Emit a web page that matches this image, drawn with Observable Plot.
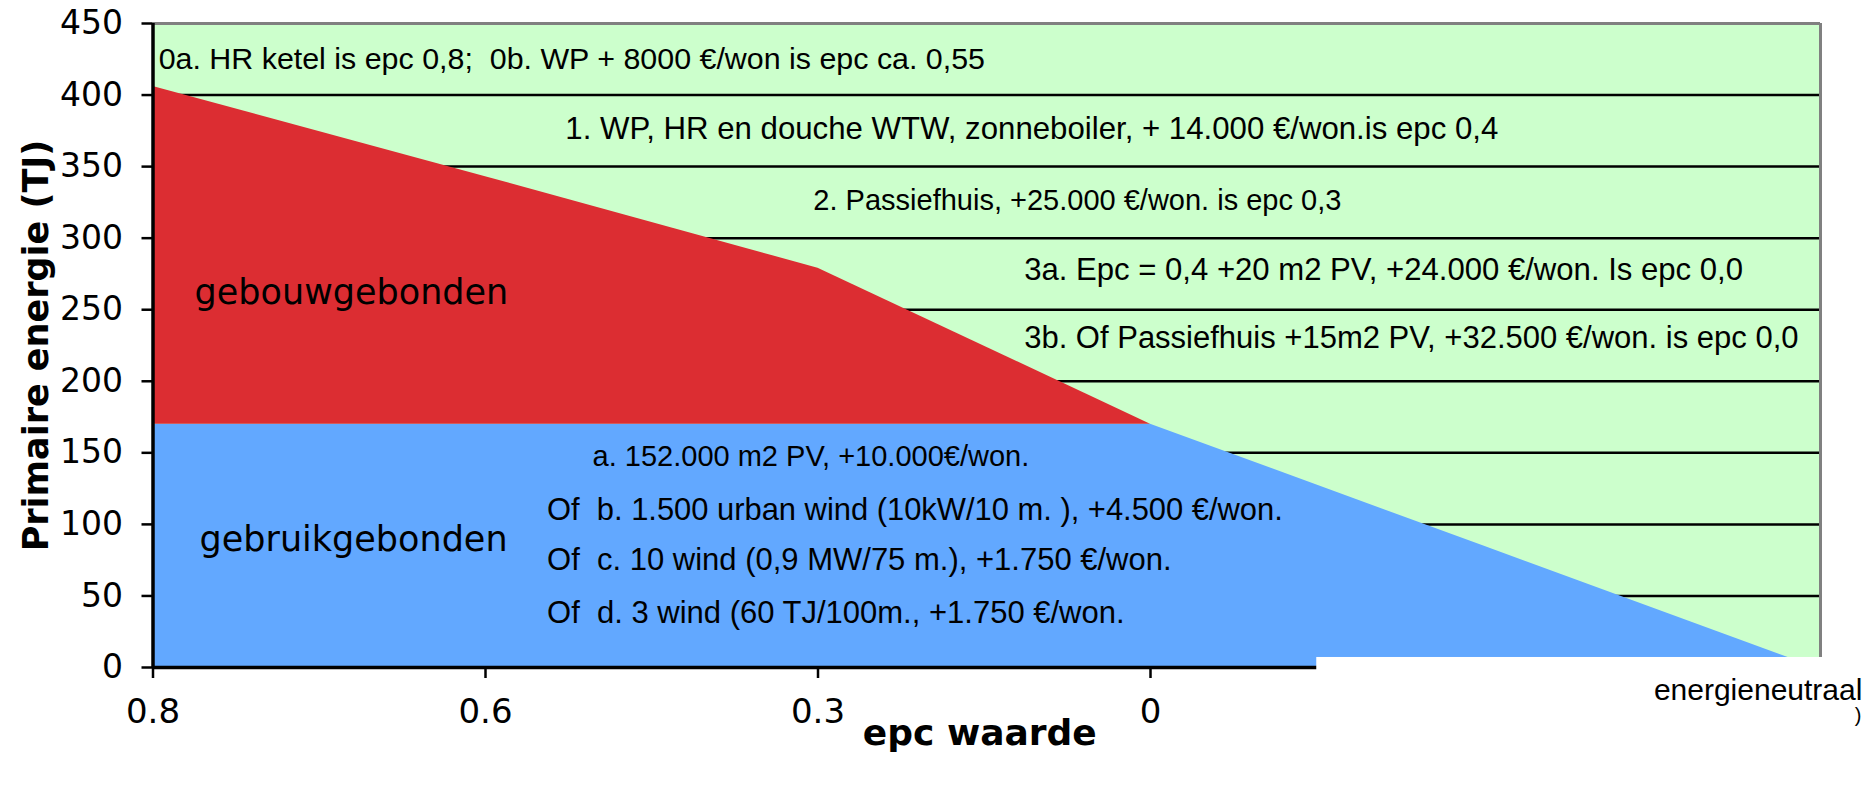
<!DOCTYPE html>
<html>
<head>
<meta charset="utf-8">
<script src="https://cdn.jsdelivr.net/npm/d3@7"></script>
<script src="https://cdn.jsdelivr.net/npm/@observablehq/plot@0.6"></script>
<style>
  html, body { margin: 0; padding: 0; background: white; }
  svg text { white-space: pre; }
</style>
</head>
<body>
<div id="chart"></div>
<script>
// categories along the x axis (equally spaced)
const epc = ["0.8", "0.6", "0.3", "0", "", "energieneutraal"];
// gebruikgebonden (blue, bottom layer), TJ
const gebruik = [170, 170, 170, 170, 85, 0];
// gebouwgebonden (red, stacked on top), TJ
const gebouw = [236, 173, 109, 0];
const yTicks = [0, 50, 100, 150, 200, 250, 300, 350, 400, 450];

// annotation texts in the chart
const noteText = [
  "0a. HR ketel is epc 0,8;  0b. WP + 8000 €/won is epc ca. 0,55",
  "1. WP, HR en douche WTW, zonneboiler, + 14.000 €/won.is epc 0,4",
  "2. Passiefhuis, +25.000 €/won. is epc 0,3",
  "3a. Epc = 0,4 +20 m2 PV, +24.000 €/won. Is epc 0,0",
  "3b. Of Passiefhuis +15m2 PV, +32.500 €/won. is epc 0,0",
  "a. 152.000 m2 PV, +10.000€/won.",
  "Of  b. 1.500 urban wind (10kW/10 m. ), +4.500 €/won.",
  "Of  c. 10 wind (0,9 MW/75 m.), +1.750 €/won.",
  "Of  d. 3 wind (60 TJ/100m., +1.750 €/won."
];
const noteX = [0.017, 1.24, 1.986, 2.62, 2.62, 1.322, 1.185, 1.185, 1.185];
const noteY = [425, 376, 326, 278, 230, 147, 110, 75, 38];
const noteSize = [30.4, 31.2, 29, 31.1, 31, 29, 30.9, 31, 31];

const layerText = ["gebouwgebonden", "gebruikgebonden"];
const layerX = [0.125, 0.14];
const layerY = [262, 89];

const idx6 = d3.range(epc.length);
const idx4 = d3.range(gebouw.length);
const xMax = 5.015;

const notes = noteText.map((t, i) => ({t, x: noteX[i], y: noteY[i], s: noteSize[i]}));
const layers = layerText.map((t, i) => ({t, x: layerX[i], y: layerY[i]}));

const chart = Plot.plot({
  width: 1866,
  height: 785,
  marginLeft: 152.5,
  marginRight: 46,
  marginTop: 23,
  marginBottom: 118,
  style: {fontFamily: "DejaVu Sans", background: "white", color: "black"},
  x: {domain: [0, xMax]},
  y: {domain: [0, 450]},
  marks: [
    Plot.frame({fill: "#CCFFCC"}),
    Plot.ruleY(yTicks.filter(d => d > 0 && d < 450), {stroke: "black", strokeWidth: 2.5}),
    Plot.areaY(idx6, {x: d => d, y1: 0, y2: d => gebruik[d], fill: "#62A8FF"}),
    Plot.areaY(idx4, {x: d => d, y1: d => gebruik[d], y2: d => gebruik[d] + gebouw[d], fill: "#DC2D32"}),
    Plot.ruleY([450], {stroke: "#808080", strokeWidth: 3}),
    Plot.ruleX([xMax], {stroke: "#808080", strokeWidth: 3}),
    Plot.axisY({ticks: yTicks, tickSize: 11, tickPadding: 19, fontSize: 33, strokeWidth: 2.5, label: null}),
    Plot.axisX({ticks: [0, 1, 2, 3], tickFormat: i => epc[i], tickSize: 11, tickPadding: 20, fontSize: 34, strokeWidth: 2.5, label: null}),
    Plot.ruleX([0], {stroke: "black", strokeWidth: 3.5}),
    Plot.ruleY([0], {stroke: "black", strokeWidth: 3.5}),
    // white text box of the "energieneutraal" label covering the axis
    Plot.rect([0], {x1: 3.5, x2: 5.3, y1: -12, y2: 7, fill: "white"}),
    Plot.text(notes, {x: "x", y: "y", text: "t", fontSize: "s", textAnchor: "start", fontFamily: "Liberation Sans", fill: "black"}),
    Plot.text(layers, {x: "x", y: "y", text: "t", textAnchor: "start", fontFamily: "DejaVu Sans", fontSize: 35, fill: "black"}),
    Plot.text([epc[5]], {x: 5.141, y: -16, text: d => d, textAnchor: "end", fontFamily: "Liberation Sans", fontSize: 30, fill: "black"}),
    Plot.text([")"], {x: 5.138, y: -33.5, text: d => d, textAnchor: "end", fontFamily: "Liberation Sans", fontSize: 20, fill: "black"}),
    Plot.text(["Primaire energie (TJ)"], {frameAnchor: "left", textAnchor: "middle", rotate: -90, dx: -116, fontWeight: "bold", fontSize: 35, fill: "black"}),
    Plot.text(["epc waarde"], {frameAnchor: "bottom", lineAnchor: "middle", dx: -7, dy: 66, fontWeight: "bold", fontSize: 36, fill: "black"})
  ]
});
document.getElementById("chart").appendChild(chart);
</script>
</body>
</html>
